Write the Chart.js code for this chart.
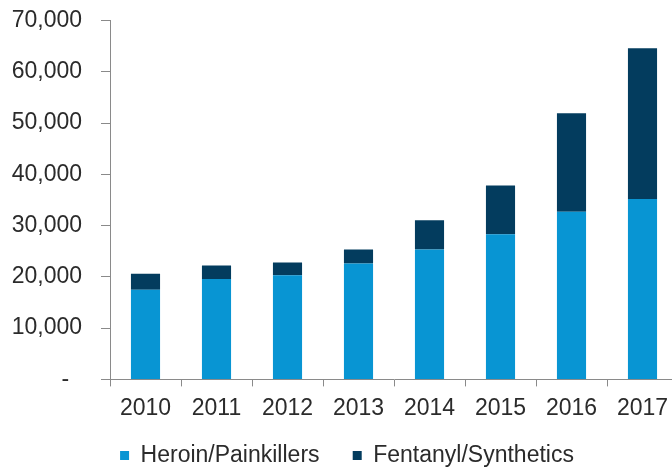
<!DOCTYPE html>
<html>
<head>
<meta charset="utf-8">
<script src="https://cdn.jsdelivr.net/npm/chart.js@4"></script>
<style>
html,body{margin:0;padding:0;overflow:hidden;background:#fff;width:672px;height:469px;position:relative;}
#wrap{position:absolute;left:0;top:-10px;width:686px;height:487px;}
</style>
</head>
<body>
<div id="wrap"><canvas id="c" width="686" height="487"></canvas></div>
<script>
const categories = ["2010","2011","2012","2013","2014","2015","2016","2017"];
const heroinPainkillers = [17500, 19600, 20300, 22600, 25350, 28300, 32700, 35200];
const fentanylSynthetics = [3100, 2600, 2500, 2750, 5700, 9500, 19200, 29400];
const yTickValues = [0, 10000, 20000, 30000, 40000, 50000, 60000, 70000];

const FONT = "'Liberation Sans', Arial, sans-serif";
const textColor = "#2b2b2b";
const axisColor = "#8a8a8a";

const legendShift = {
  id: 'legendShift',
  afterLayout(chart) {
    if (chart.legend) { chart.legend.left += 2; chart.legend.right += 2; }
  }
};

new Chart(document.getElementById('c'), {
  type: 'bar',
  data: {
    labels: categories,
    datasets: [
      { label: 'Heroin/Painkillers', data: heroinPainkillers, backgroundColor: '#0895d3', barPercentage: 0.41, categoryPercentage: 1 },
      { label: 'Fentanyl/Synthetics', data: fentanylSynthetics, backgroundColor: '#033c5e', barPercentage: 0.41, categoryPercentage: 1 }
    ]
  },
  plugins: [legendShift],
  options: {
    responsive: false,
    animation: false,
    layout: { padding: { left: 12, right: 8, top: 0, bottom: 0 } },
    plugins: {
      tooltip: { enabled: false },
      legend: {
        position: 'bottom',
        labels: {
          font: { family: FONT, size: 23 },
          color: textColor,
          boxWidth: 9,
          boxHeight: 9,
          padding: 14,
          generateLabels: (chart) => {
            const items = Chart.defaults.plugins.legend.labels.generateLabels(chart);
            items.forEach((it, i) => { if (i === 0) it.text = it.text + '   '; });
            return items;
          }
        }
      }
    },
    scales: {
      x: {
        stacked: true,
        grid: { display: true, drawOnChartArea: false, tickLength: 7, color: axisColor, offset: true },
        border: { display: true, color: axisColor, width: 1 },
        ticks: { font: { family: FONT, size: 23 }, color: textColor, padding: 8, maxRotation: 0 }
      },
      y: {
        stacked: true,
        min: 0,
        max: 70000,
        afterBuildTicks: (scale) => { scale.ticks = yTickValues.map(v => ({ value: v })); },
        afterFit: (scale) => { scale.width = 98; },
        grid: { display: true, drawOnChartArea: false, tickLength: 9, color: axisColor },
        border: { display: true, color: axisColor, width: 1 },
        ticks: {
          font: { family: FONT, size: 23, lineHeight: 1 },
          color: textColor,
          padding: 19,
          callback: (v) => v === 0 ? '-  ' : v.toLocaleString('en-US')
        }
      }
    }
  }
});
</script>
</body>
</html>
